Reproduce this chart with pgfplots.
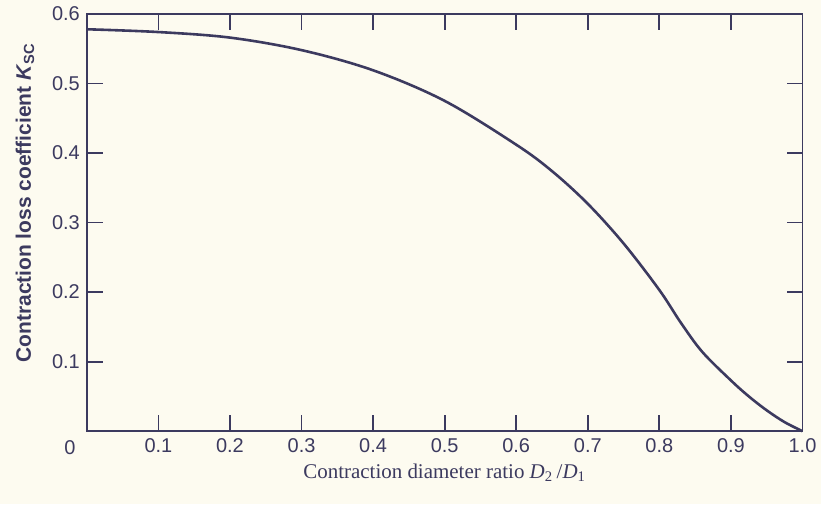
\documentclass[border=0pt]{standalone}
\usepackage{fontspec}
\setmainfont{Liberation Serif}
\newfontfamily\sansf{Liberation Sans}
\usepackage{pgfplots}
\pgfplotsset{compat=1.18}
\usetikzlibrary{backgrounds}
\definecolor{ink}{RGB}{60,58,95}
\definecolor{paper}{RGB}{253,251,240}

\begin{document}
\begin{tikzpicture}
\begin{axis}[
    scale only axis,
    width=358.5pt, height=209pt,
    xmin=0, xmax=1, ymin=0, ymax=0.6,
    clip=false,
    axis line style={ink, line width=0.9pt},
    tick style={ink, line width=0.9pt},
    major tick length=8pt,
    tick align=inside,
    xtick={0.1,0.2,0.3,0.4,0.5,0.6,0.7,0.8,0.9,1.0},
    xticklabels={0.1,0.2,0.3,0.4,0.5,0.6,0.7,0.8,0.9,1.0},
    ytick={0.1,0.2,0.3,0.4,0.5,0.6},
    yticklabels={0.1,0.2,0.3,0.4,0.5,0.6},
    ticklabel style={text=ink, font=\sansf\fontsize{10}{12}\selectfont},
    xlabel={Contraction diameter ratio \textit{D}\textsubscript{2}\,/\textit{D}\textsubscript{1}},
    ylabel={\sansf\bfseries Contraction loss coefficient \textit{K}\textsubscript{SC}},
    xlabel style={text=ink, font=\fontsize{10.5}{12}\selectfont, yshift=1pt},
    ylabel style={text=ink, font=\fontsize{10.5}{13}\selectfont, xshift=10pt, yshift=2pt},
]
\addplot[ink, line width=1.3pt, smooth, tension=0.55] coordinates {
    (0,0.578) (0.1,0.574) (0.2,0.566) (0.3,0.548) (0.4,0.519)
    (0.5,0.475) (0.6,0.412) (0.65,0.374) (0.7,0.327) (0.75,0.270)
    (0.8,0.203) (0.83,0.156) (0.86,0.114) (0.9,0.073) (0.925,0.050)
    (0.95,0.030) (0.975,0.013) (1.0,0.0)
};
\node[text=ink, font=\sansf\fontsize{10}{12}\selectfont,
      xshift=-8.5pt, yshift=-8pt] at (rel axis cs:0,0) {0};
\end{axis}
\begin{scope}[on background layer]
\fill[paper] ([shift={(-43.5pt,-36.5pt)}]current axis.south west)
    rectangle ([shift={(9.5pt,7pt)}]current axis.north east);
\end{scope}
\end{tikzpicture}
\end{document}
